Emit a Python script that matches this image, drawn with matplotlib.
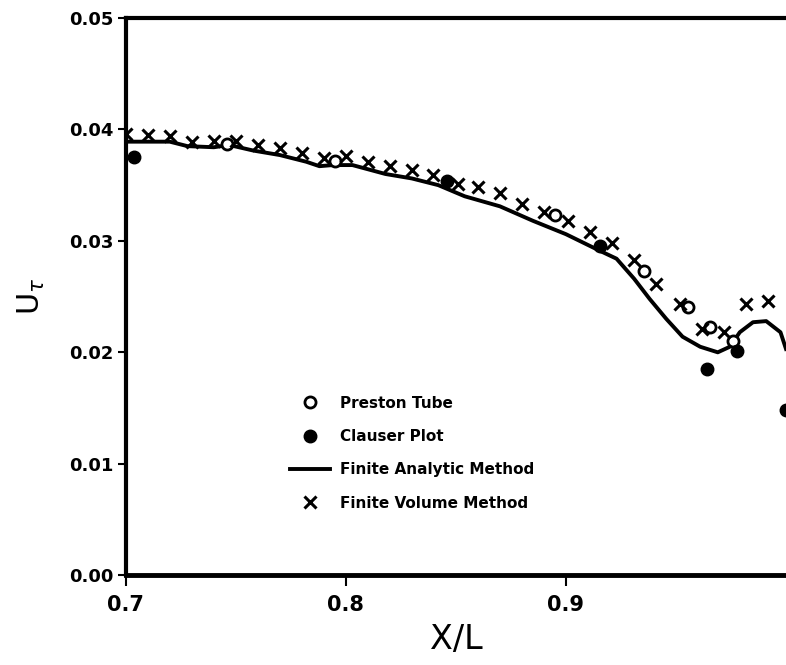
import numpy as np
import matplotlib.pyplot as plt

# Finite Volume Method (crosses)
fv_x = [0.700, 0.710, 0.720, 0.730, 0.740, 0.750, 0.760, 0.770, 0.780, 0.790,
        0.800, 0.810, 0.820, 0.830, 0.8395, 0.851, 0.860, 0.870, 0.880, 0.890,
        0.901, 0.911, 0.921, 0.931, 0.941, 0.952, 0.962, 0.972, 0.982, 0.992]
fv_y = [0.0396, 0.0395, 0.0394, 0.0389, 0.0390, 0.0390, 0.0386, 0.0383, 0.0379, 0.0374,
        0.0376, 0.0371, 0.0367, 0.0364, 0.0359, 0.0351, 0.0348, 0.0343, 0.0333, 0.0326,
        0.0318, 0.0308, 0.0298, 0.0283, 0.0261, 0.0243, 0.0221, 0.0218, 0.0243, 0.0246]

# Preston Tube (open circles)
pt_x = [0.746, 0.795, 0.895, 0.9357, 0.9555, 0.9655, 0.976]
pt_y = [0.0387, 0.0372, 0.0323, 0.0273, 0.0241, 0.0223, 0.0210]

# Clauser Plot (filled circles)
cp_x = [0.7036, 0.846, 0.9155, 0.964, 0.9776, 1.0]
cp_y = [0.0375, 0.0354, 0.0295, 0.0185, 0.0201, 0.0148]

# Finite Analytic Method (solid line)
fa_x = [0.700, 0.720, 0.728, 0.740, 0.747, 0.758, 0.770, 0.782, 0.788, 0.794,
        0.803, 0.818, 0.830, 0.842, 0.854, 0.870, 0.885, 0.900, 0.9155, 0.923,
        0.931, 0.938, 0.9456, 0.953, 0.961, 0.969, 0.9745, 0.979, 0.985, 0.991,
        0.9975, 1.000]
fa_y = [0.0389, 0.0389, 0.0385, 0.0384, 0.0386, 0.0381, 0.0377, 0.0371, 0.0367, 0.0368,
        0.0368, 0.0360, 0.0356, 0.0350, 0.0340, 0.0331, 0.0318, 0.0306, 0.0291, 0.0284,
        0.0266, 0.0248, 0.0230, 0.0214, 0.0205, 0.0200, 0.0205, 0.0218, 0.0227, 0.0228,
        0.0218, 0.0203]

fig = plt.figure(figsize=(7.86, 6.65), dpi=100)
ax = fig.add_axes([0.160, 0.135, 0.840, 0.838])

ax.plot(fa_x, fa_y, color='black', lw=2.8, label='Finite Analytic Method', zorder=2)
ax.plot(pt_x, pt_y, 'o', ms=8, mfc='white', mec='black', mew=2,
        label='Preston Tube', zorder=3)
ax.plot(cp_x, cp_y, 'o', ms=9, color='black', label='Clauser Plot', zorder=3)
ax.plot(fv_x, fv_y, 'x', ms=8, mew=2.2, color='black',
        label='Finite Volume Method', zorder=4)

ax.set_xlim(0.7, 1.0)
ax.set_ylim(0.0, 0.05)

ax.set_xticks([0.7, 0.8, 0.9])
ax.set_xticklabels(['0.7', '0.8', '0.9'], fontsize=15, fontweight='bold')
ax.set_yticks(np.arange(0, 0.051, 0.01))
ax.set_yticklabels(['0.00', '0.01', '0.02', '0.03', '0.04', '0.05'],
                   fontsize=13, fontweight='bold')
ax.tick_params(axis='x', direction='out', length=8, width=1.5, pad=6)
ax.tick_params(axis='y', direction='out', length=6, width=1.5, pad=3)

ax.spines['right'].set_visible(False)
ax.spines['left'].set_linewidth(3)
ax.spines['bottom'].set_linewidth(3.5)
ax.spines['top'].set_linewidth(3)

ax.set_xlabel('X/L', fontsize=24, labelpad=6)
ax.set_ylabel(r'U$_{\tau}$', fontsize=22, labelpad=16)

# Legend in the order of the reference
handles, labels = ax.get_legend_handles_labels()
order = [1, 2, 0, 3]
leg = ax.legend([handles[i] for i in order], [labels[i] for i in order],
                loc='upper left', bbox_to_anchor=(0.228, 0.347), frameon=False,
                handlelength=2.6, handletextpad=0.7, labelspacing=1.2,
                prop={'weight': 'bold', 'size': 11})

fig.savefig('out.png', dpi=100)
